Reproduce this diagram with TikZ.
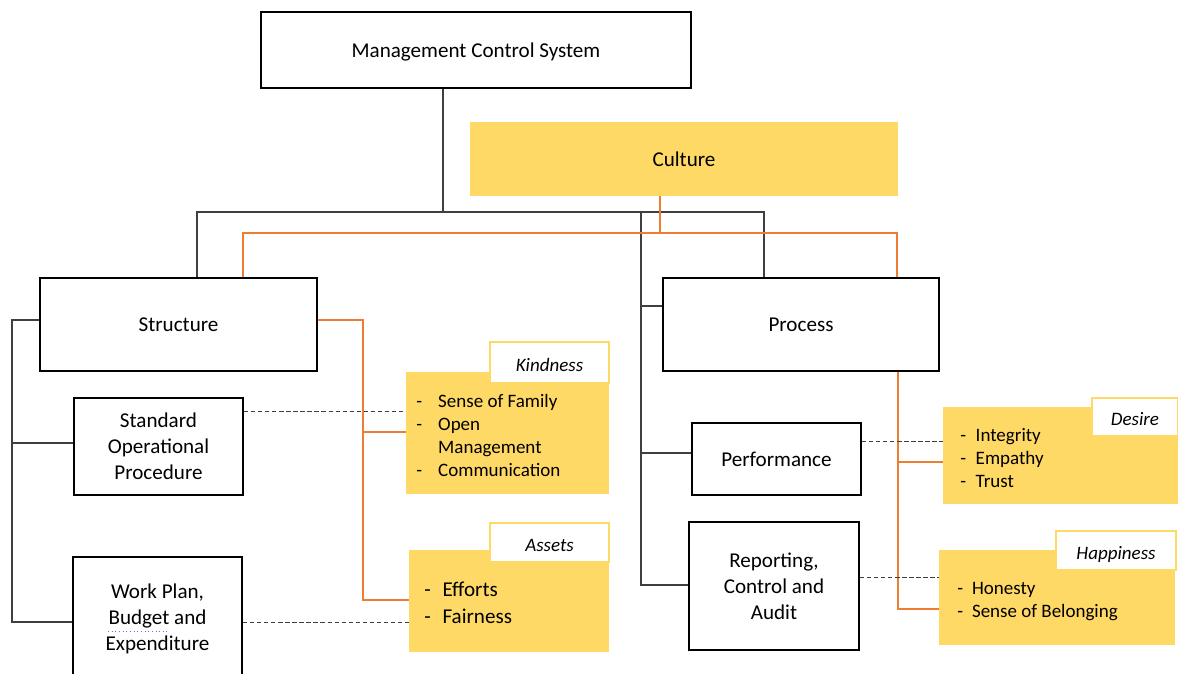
\documentclass[tikz,border=0pt]{standalone}
\usepackage{fontspec}
\setmainfont{Carlito}
\definecolor{gold}{HTML}{FFD966}
\definecolor{orng}{HTML}{ED7D31}
\definecolor{cgray}{HTML}{3F3F3F}
\tikzset{
 box/.style={draw=black, line width=1.6pt, inner sep=0pt, align=center, text depth=0pt, font=\fontsize{15}{18.4}\selectfont},
 ybox/.style={fill=gold, inner sep=0pt, align=center, font=\fontsize{15}{18.4}\selectfont},
 tab/.style={fill=white, draw=gold, line width=1.2pt, inner sep=0pt, text height=12.6pt, text depth=0pt, font=\fontsize{13.5}{16}\selectfont\itshape},
 cline/.style={draw=cgray, line width=0.8pt},
 oline/.style={draw=orng, line width=1.3pt},
 dline/.style={draw=cgray, line width=0.7pt, dash pattern=on 3pt off 2pt},
 list/.style={anchor=base west, inner sep=0pt, align=left},
}
% \rbox{style}{name}{x1}{y1}{x2}{y2}{text}
\newcommand{\rbox}[7]{%
 \node[#1, minimum width={(#5-#3)*0.025cm}, minimum height={(#6-#4)*0.025cm}] (#2) at ({(#3+#5)/2},{(#4+#6)/2}) {#7};}
\begin{document}
\begin{tikzpicture}[x=0.025cm,y=-0.025cm]
\useasboundingbox (0,0) rectangle (1178,673);
% main boxes
\rbox{box}{mcs}{261}{12}{691}{88}{Management Control System}
\rbox{ybox}{culture}{470}{122}{898}{196}{Culture}
\rbox{box}{struct}{40}{278}{317}{371}{Structure}
\rbox{box}{proc}{663}{278}{939}{371}{Process}
\rbox{box}{sop}{74}{398}{243}{495}{Standard\\Operational\\Procedure}
\rbox{box}{wp}{73}{557}{242}{677}{Work Plan,\\Budget and\\Expenditure}
\rbox{box}{perf}{692}{423}{861}{495}{Performance}
\rbox{box}{rep}{689}{522}{859}{650}{Reporting,\\Control and\\Audit}
% yellow boxes
\rbox{ybox}{kind}{406}{372}{609}{494}{}
\rbox{ybox}{assets}{409}{550}{609}{652}{}
\rbox{ybox}{desire}{943}{407}{1178}{504}{}
\rbox{ybox}{happy}{939}{550}{1175}{645}{}
% tabs
\rbox{tab}{kindtab}{490}{342}{609}{383}{Kindness}
\rbox{tab}{assetstab}{490}{523}{609}{562}{Assets}
\rbox{tab}{desiretab}{1092}{398}{1178}{436}{Desire}
\rbox{tab}{happytab}{1056}{531}{1176}{570}{Happiness}
% lists
\node[list, font=\fontsize{13.5}{16.4}\selectfont] (kindlist) at (416,407)
 {\begin{tabular}[t]{@{}p{15.6pt}@{}l@{}}-&Sense of Family\\-&Open\\&Management\\-&Communication\end{tabular}};
\node[list, font=\fontsize{15}{19.2}\selectfont] (assetslist) at (424,596)
 {\begin{tabular}[t]{@{}p{13pt}@{}l@{}}-&Efforts\\-&Fairness\end{tabular}};
\node[list, font=\fontsize{13.5}{16.4}\selectfont] (desirelist) at (960,441)
 {\begin{tabular}[t]{@{}p{11pt}@{}l@{}}-&Integrity\\-&Empathy\\-&Trust\end{tabular}};
\node[list, font=\fontsize{13.5}{16.4}\selectfont] (happylist) at (957,594)
 {\begin{tabular}[t]{@{}p{10.5pt}@{}l@{}}-&Honesty\\-&Sense of Belonging\end{tabular}};
% black connectors
\draw[cline] (mcs.south -| 443,0) -- (443,212);
\draw[cline] (struct.north -| 197,0) |- (764,212) -- (proc.north -| 764,0);
\draw[cline] (641,212) |- (rep.west |- 0,585);
\draw[cline] (641,306) -- (proc.west |- 0,306);
\draw[cline] (641,453) -- (perf.west |- 0,453);
\draw[cline] (struct.west |- 0,320) -- (12,320) |- (wp.west |- 0,622);
\draw[cline] (12,443) -- (sop.west |- 0,443);
% orange connectors
\draw[oline] (culture.south -| 660,0) -- (660,233);
\draw[oline] (struct.north -| 243,0) |- (897,233) -- (proc.north -| 897,0);
\draw[oline] (struct.east |- 0,320) -- (363,320) |- (assets.west |- 0,600);
\draw[oline] (363,432) -- (kind.west |- 0,432);
\draw[oline] (proc.south -| 898,0) |- (happy.west |- 0,609);
\draw[oline] (898,462) -- (desire.west |- 0,462);
% dashed links
\draw[dline] (sop.east |- 0,411) -- (kind.west |- 0,411);
\draw[dline] (wp.east |- 0,622) -- (assets.west |- 0,622);
\draw[dline] (perf.east |- 0,441) -- (desire.west |- 0,441);
\draw[dline] (rep.east |- 0,577) -- (happy.west |- 0,577);
% spell-check underline
\draw[blue!60!white, dotted, line width=0.6pt] (108,631) -- (168,631);
\end{tikzpicture}
\end{document}
